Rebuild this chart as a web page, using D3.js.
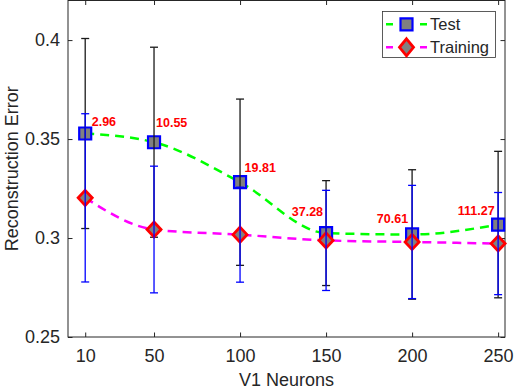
<!DOCTYPE html>
<html>
<head>
<meta charset="utf-8">
<script src="https://cdn.jsdelivr.net/npm/d3@7"></script>
<style>
  body { margin: 0; background: #fff; }
  svg { display: block; font-family: "Liberation Sans", Arial, sans-serif; }
</style>
</head>
<body>
<svg id="chart" width="514" height="390"></svg>
<script>
// data
const neurons = [10, 50, 100, 150, 200, 250];
const testMean = [0.3528, 0.3484, 0.3282, 0.3025, 0.3018, 0.3068];
const testErr = [0.048, 0.048, 0.042, 0.0265, 0.0327, 0.037];
const trainMean = [0.3203, 0.3043, 0.3017, 0.2988, 0.298, 0.2972];
const trainErr = [0.0425, 0.032, 0.024, 0.0253, 0.0286, 0.0258];
const timeLabels = ["2.96", "10.55", "19.81", "37.28", "70.61", "111.27"];
const xTicks = [10, 50, 100, 150, 200, 250];
const yTicks = [0.25, 0.3, 0.35, 0.4];

const svg = d3.select("#chart");
const box = { left: 68, right: 505, top: 0.5, bottom: 337 };

const x = d3.scaleLinear().domain([0, 254]).range([box.left, box.right]);
const y = d3.scaleLinear().domain([0.25, 0.42]).range([box.bottom, box.top]);

const axisColor = "#262626";

const testData = neurons.map((n, i) => ({ n, v: testMean[i], e: testErr[i] }));
const trainData = neurons.map((n, i) => ({ n, v: trainMean[i], e: trainErr[i] }));

// axes box
svg.append("rect")
  .attr("x", box.left).attr("y", box.top)
  .attr("width", box.right - box.left).attr("height", box.bottom - box.top)
  .attr("fill", "none").attr("stroke", axisColor).attr("stroke-width", 1);

function styleAxis(g) {
  g.select(".domain").remove();
  g.selectAll(".tick line").attr("stroke", axisColor);
  g.selectAll(".tick text").attr("fill", axisColor).style("font-size", "18px")
    .style("font-family", "Liberation Sans, Arial, sans-serif");
}

// bottom / left with labels, inward ticks
svg.append("g")
  .attr("transform", `translate(0,${box.bottom})`)
  .call(d3.axisBottom(x).tickValues(xTicks).tickSizeInner(-4.5).tickSizeOuter(0).tickPadding(12))
  .call(styleAxis);

svg.append("g")
  .attr("transform", `translate(${box.left},0)`)
  .call(d3.axisLeft(y).tickValues(yTicks).tickFormat(d => String(d))
    .tickSizeInner(-4.5).tickSizeOuter(0).tickPadding(8))
  .call(styleAxis);

// top / right, ticks only
svg.append("g")
  .attr("transform", `translate(0,${box.top})`)
  .call(d3.axisTop(x).tickValues(xTicks).tickSizeInner(-4.5).tickSizeOuter(0).tickFormat(""))
  .call(styleAxis);

svg.append("g")
  .attr("transform", `translate(${box.right},0)`)
  .call(d3.axisRight(y).tickValues(yTicks).tickSizeInner(-4.5).tickSizeOuter(0).tickFormat(""))
  .call(styleAxis);

// axis labels
svg.append("text")
  .attr("x", (box.left + box.right) / 2)
  .attr("y", 386)
  .attr("text-anchor", "middle")
  .attr("fill", axisColor)
  .style("font-size", "18px")
  .text("V1 Neurons");

svg.append("text")
  .attr("transform", `translate(17.5,${(box.top + box.bottom) / 2}) rotate(-90)`)
  .attr("text-anchor", "middle")
  .attr("fill", axisColor)
  .style("font-size", "18px")
  .text("Reconstruction Error");

const curve = d3.line()
  .x(d => x(d.n))
  .y(d => y(d.v))
  .curve(d3.curveMonotoneX);

const squarePath = "M-6,-6H6V6H-6Z";
const diamondPath = "M0,-7.5L7,0L0,7.5L-7,0Z";

function errorBars(data, color, width) {
  const gb = svg.append("g").attr("stroke", color).attr("stroke-width", width).attr("fill", "none");
  data.forEach(d => {
    const cx = x(d.n);
    gb.append("line")
      .attr("x1", cx).attr("x2", cx)
      .attr("y1", y(d.v + d.e)).attr("y2", y(d.v - d.e));
    [d.v + d.e, d.v - d.e].forEach(v => {
      gb.append("line")
        .attr("x1", cx - 4).attr("x2", cx + 4)
        .attr("y1", y(v)).attr("y2", y(v));
    });
  });
}

// Test series
svg.append("path")
  .datum(testData)
  .attr("fill", "none")
  .attr("stroke", "#00ff00")
  .attr("stroke-width", 2.5)
  .attr("stroke-dasharray", "9 6")
  .attr("d", curve);

svg.append("g").selectAll("path")
  .data(testData)
  .join("path")
  .attr("transform", d => `translate(${x(d.n)},${y(d.v)})`)
  .attr("d", squarePath)
  .attr("fill", "#808080")
  .attr("stroke", "#0000ff")
  .attr("stroke-width", 2.2);

errorBars(testData, "#1a1a1a", 1.3);

// Training series
svg.append("path")
  .datum(trainData)
  .attr("fill", "none")
  .attr("stroke", "#ff00ff")
  .attr("stroke-width", 2.5)
  .attr("stroke-dasharray", "9 6")
  .attr("d", curve);

svg.append("g").selectAll("path")
  .data(trainData)
  .join("path")
  .attr("transform", d => `translate(${x(d.n)},${y(d.v)})`)
  .attr("d", diamondPath)
  .attr("fill", "#808080")
  .attr("stroke", "#ff0000")
  .attr("stroke-width", 2.8)
  .attr("stroke-linejoin", "miter");

errorBars(trainData, "#0000ff", 1.3);

// red time annotations next to the test points
const labelOffsets = [[6.5, -7.5, "start"], [2, -15, "start"], [4.5, -10.5, "start"],
  [-3, -17, "end"], [-4, -11.5, "end"], [-3.5, -9.5, "end"]];

svg.append("g").selectAll("text")
  .data(testData)
  .join("text")
  .attr("x", (d, i) => x(d.n) + labelOffsets[i][0])
  .attr("y", (d, i) => y(d.v) + labelOffsets[i][1])
  .attr("text-anchor", (d, i) => labelOffsets[i][2])
  .attr("fill", "#ff0000")
  .style("font-size", "12.5px")
  .style("font-weight", "bold")
  .text((d, i) => timeLabels[i]);

// legend
const legend = svg.append("g");
legend.append("rect")
  .attr("x", 382.5).attr("y", 11.5)
  .attr("width", 113).attr("height", 46)
  .attr("fill", "#fff")
  .attr("stroke", "#333")
  .attr("stroke-width", 0.8);

const legendItems = [
  { name: "Test", color: "#00ff00", marker: squarePath, edge: "#0000ff", sw: 2.2, y: 24.3 },
  { name: "Training", color: "#ff00ff", marker: "M0,-8.5L7,0L0,8.5L-7,0Z", edge: "#ff0000", sw: 2.8, y: 47.3 }
];

legendItems.forEach(item => {
  legend.append("line")
    .attr("x1", 386).attr("x2", 427)
    .attr("y1", item.y).attr("y2", item.y)
    .attr("stroke", item.color)
    .attr("stroke-width", 2.5)
    .attr("stroke-dasharray", "7 27");
  legend.append("path")
    .attr("transform", `translate(406.5,${item.y})`)
    .attr("d", item.marker)
    .attr("fill", "#808080")
    .attr("stroke", item.edge)
    .attr("stroke-width", item.sw);
  legend.append("text")
    .attr("x", 430)
    .attr("y", item.y + 6)
    .attr("fill", axisColor)
    .style("font-size", "16.5px")
    .text(item.name);
});
</script>
</body>
</html>
